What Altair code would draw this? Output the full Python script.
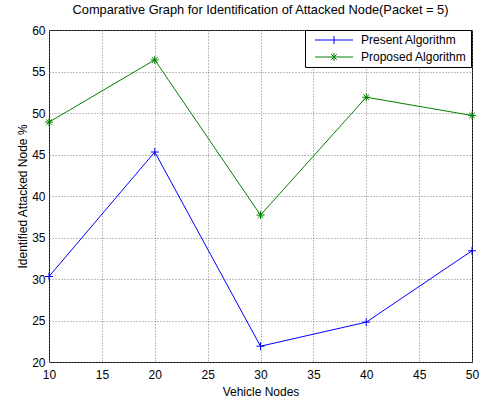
import altair as alt
import pandas as pd

nodes = [10, 20, 30, 40, 50]
present = [30.3, 45.3, 21.9, 24.8, 33.4]
proposed = [48.9, 56.4, 37.7, 51.9, 49.7]
series_names = ["Present Algorithm", "Proposed Algorithm"]
series_colors = ["#0000ff", "#008000"]
x_ticks = [10, 15, 20, 25, 30, 35, 40, 45, 50]
y_ticks = [20, 25, 30, 35, 40, 45, 50, 55, 60]

rows = []
for n, v in zip(nodes, present):
    rows.append({"node": n, "value": v, "series": series_names[0]})
for n, v in zip(nodes, proposed):
    rows.append({"node": n, "value": v, "series": series_names[1]})
df = pd.DataFrame(rows)

FONT = "Liberation Sans"
PLUS = "M-1,0L1,0M0,-1L0,1"
STAR = "M-1,0L1,0M0,-1L0,1M-0.7,-0.7L0.7,0.7M-0.7,0.7L0.7,-0.7"
PLUS_LEG = "M-4.75,0L4.75,0M0,-1L0,1"
STAR_LEG = "M-4.75,0L4.75,0M0,-1L0,1M-0.7,-0.7L0.7,0.7M-0.7,0.7L0.7,-0.7"

x_enc = alt.X("node:Q", scale=alt.Scale(domain=[10, 50], nice=False),
              axis=alt.Axis(values=x_ticks, title="Vehicle Nodes", ticks=False,
                            labelPadding=7, titlePadding=6, domain=False,
                            labelFlush=False, labelOverlap=False))
y_enc = alt.Y("value:Q", scale=alt.Scale(domain=[20, 60], nice=False),
              axis=alt.Axis(values=y_ticks, title="Identified Attacked Node %", ticks=False,
                            labelPadding=4, titlePadding=2, domain=False,
                            labelFlush=False, labelOverlap=False))
color_scale = alt.Scale(domain=series_names, range=series_colors)

leg = alt.Legend(title=None, orient="none", legendX=256, legendY=0,
                 padding=4, strokeColor="black", fillColor="white",
                 cornerRadius=0, labelFont=FONT, labelFontSize=12,
                 labelColor="black", symbolOffset=19, labelOffset=21,
                 symbolStrokeWidth=1, symbolSize=64, rowPadding=5)

lines = alt.Chart(df).mark_line(strokeWidth=1).encode(
    x=x_enc, y=y_enc,
    color=alt.Color("series:N", scale=color_scale, legend=None),
)
points = alt.Chart(df).mark_point(filled=False, strokeWidth=1, size=64, opacity=1).encode(
    x=x_enc, y=y_enc,
    color=alt.Color("series:N", scale=color_scale, legend=None),
    shape=alt.Shape("series:N", scale=alt.Scale(domain=series_names, range=[PLUS, STAR]), legend=None),
)
legend_src = alt.Chart(df).transform_filter("false").mark_point(
    filled=False, strokeWidth=1, size=64, opacity=1).encode(
    x=x_enc, y=y_enc,
    color=alt.Color("series:N", scale=color_scale, legend=leg),
    shape=alt.Shape("series:N", scale=alt.Scale(domain=series_names, range=[PLUS_LEG, STAR_LEG]),
                    legend=leg),
)

chart = alt.layer(lines, points, legend_src).resolve_scale(
    shape="independent", color="independent"
).properties(
    width=423, height=332,
    title=alt.TitleParams("Comparative Graph for Identification of Attacked Node(Packet = 5)",
                          font=FONT, fontSize=12.8, fontWeight="normal", color="black",
                          anchor="middle", offset=7),
    autosize=alt.AutoSizeParams(type="none"),
    padding={"left": 49, "top": 30, "right": 9, "bottom": 38},
    background="white",
).configure_view(
    stroke="black", strokeWidth=1
).configure_axis(
    labelFont=FONT, labelFontSize=12, labelColor="black",
    titleFont=FONT, titleFontSize=12, titleColor="black", titleFontWeight="normal",
    gridColor="#808080", gridDash=[1, 2], gridOpacity=1, gridWidth=1,
)

chart.save("out.html", embed_options={"renderer": "svg", "actions": False})
